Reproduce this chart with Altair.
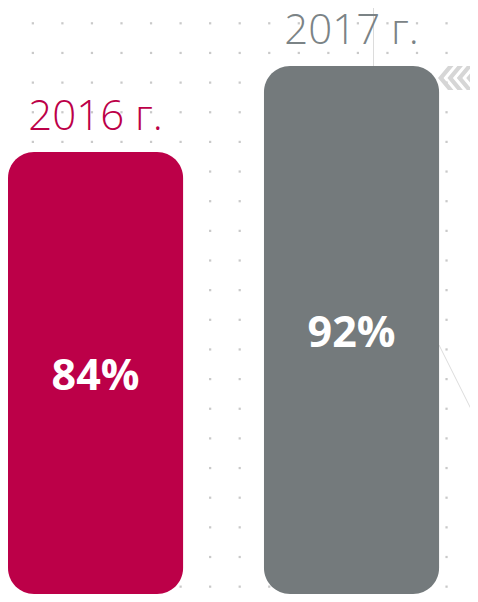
import altair as alt
import pandas as pd

# ---- data ----
years = ["2016 г.", "2017 г."]
values = [84, 92]
labels = ["84%", "92%"]
bar_colors = ["#BC0048", "#747A7C"]
label_colors = ["#BC0048", "#7B8386"]

# ---- layout constants ----
W, H = 462, 586
BASE = 42.88
TOP = 97.395

df = pd.DataFrame({
    "year": years,
    "value": values,
    "label": labels,
    "bar_color": bar_colors,
    "label_color": label_colors,
})
df["base"] = BASE
df["mid"] = (df["value"] + 42.14) / 2

xs = alt.Scale(domain=years, paddingInner=0.316, paddingOuter=0.0604, align=0)
ys = alt.Scale(domain=[BASE, TOP], zero=False, nice=False)

base = alt.Chart(df)
bars = base.mark_bar(cornerRadius=26).encode(
    x=alt.X("year:N", scale=xs, axis=None),
    y=alt.Y("value:Q", scale=ys, axis=None),
    y2="base:Q",
    color=alt.Color("bar_color:N", scale=None, legend=None),
)
year_text = base.mark_text(
    dy=-22, baseline="alphabetic", align="center",
    fontSize=42, font="Open Sans", fontWeight=300,
).encode(
    x=alt.X("year:N", scale=xs, axis=None),
    y=alt.Y("value:Q", scale=ys, axis=None),
    text="year:N",
    color=alt.Color("label_color:N", scale=None, legend=None),
)
pct_text = base.mark_text(
    baseline="middle", align="center",
    fontSize=43, font="Open Sans", fontWeight="bold", color="white",
).encode(
    x=alt.X("year:N", scale=xs, axis=None),
    y=alt.Y("mid:Q", scale=ys, axis=None),
    text="label:N",
)

# ---- decorative dot grid ----
gi_list = list(range(0, 17))
gj_list = list(range(0, 21))
grid_df = pd.DataFrame([(i, j) for i in gi_list for j in gj_list], columns=["gi", "gj"])
SX, X0 = 29.55, -4.7
SY, Y0 = 29.65, 15.3
grid = alt.Chart(grid_df).mark_square(size=5, color="#c9c9c9", opacity=1).encode(
    x=alt.X("gi:Q", axis=None,
            scale=alt.Scale(domain=[-X0 / SX, (W - X0) / SX], nice=False, zero=False)),
    y=alt.Y("gj:Q", axis=None,
            scale=alt.Scale(domain=[-Y0 / SY, (H - Y0) / SY], reverse=True, nice=False, zero=False)),
)

one = pd.DataFrame({"a": [0]})
vline = alt.Chart(one).mark_rule(color="#dcdcdc", strokeWidth=1).encode(
    x=alt.value(365.5), y=alt.value(0), y2=alt.value(120)
)
curve = alt.Chart(one).mark_rule(color="#dcdcdc", strokeWidth=1).encode(
    x=alt.value(431), x2=alt.value(470), y=alt.value(337), y2=alt.value(415)
)

# chevrons path (unit box -1..1)
S = 21.5
pts_paths = []
for k in range(6):
    x0 = 9.4 * k
    a, t, h = 10.0, 5.5, 12.0
    poly = [(x0, 0), (x0 + a, -h), (x0 + a + t, -h), (x0 + t, 0), (x0 + a + t, h), (x0 + a, h)]
    d = "M" + " L".join(f"{px / S - 1:.3f},{py / S:.3f}" for px, py in poly) + " Z"
    pts_paths.append(d)
chev_path = " ".join(pts_paths)
chev = alt.Chart(one).mark_point(
    shape=chev_path, filled=True, size=(2 * S) ** 2, color="#d6d6d6", opacity=1, strokeWidth=0
).encode(x=alt.value(430 + S), y=alt.value(70))

chart = alt.layer(
    grid, vline, curve, chev,
    alt.layer(bars, year_text, pct_text),
).resolve_scale(x="independent", y="independent").properties(
    width=W, height=H, padding=0, autosize="none"
).configure_view(strokeWidth=0)

chart.save("out.html", embed_options={"renderer": "svg", "actions": False})
